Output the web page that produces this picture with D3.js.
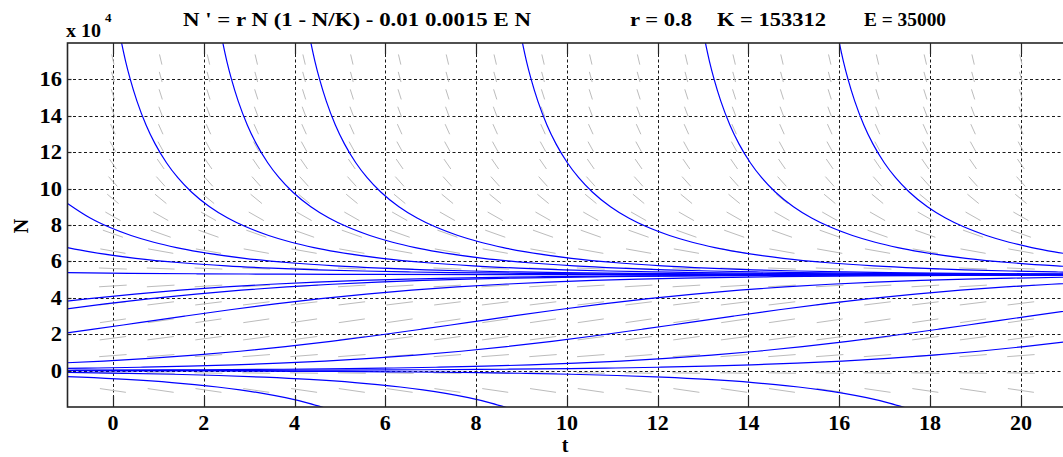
<!DOCTYPE html>
<html>
<head>
<meta charset="utf-8">
<script src="https://cdn.jsdelivr.net/npm/d3@7"></script>
<style>
  body { margin: 0; background: #fff; }
  svg { display: block; }
</style>
</head>
<body>
<svg id="chart" width="1063" height="457"></svg>
<script>
// ---- axis ticks (N in units of 10^4) ----
const tTicks = [0, 2, 4, 6, 8, 10, 12, 14, 16, 18, 20];
const nTicks = [0, 2, 4, 6, 8, 10, 12, 14, 16];

// ---- direction field: sample columns (t), rows (N) and the slope dN/dt on each row ----
const fieldT = [0, 1.053, 2.105, 3.158, 4.211, 5.263, 6.316, 7.368, 8.421, 9.474,
                10.526, 11.579, 12.632, 13.684, 14.737, 15.789, 16.842, 17.895, 18.947, 20];
const fieldN = [-1.091, -0.134, 0.823, 1.780, 2.737, 3.694, 4.651, 5.608, 6.565, 7.522,
                8.478, 9.435, 10.392, 11.349, 12.306, 13.263, 14.220, 15.177, 16.134, 17.091];
const fieldSlope = [-0.3621, -0.0378, 0.1910, 0.3242, 0.3618, 0.3038, 0.1503, -0.0989, -0.4436, -0.8839,
                    -1.4191, -2.0505, -2.7774, -3.5999, -4.5180, -5.5317, -6.6409, -7.8458, -9.1462, -10.5423];

// ---- solution curves [t, N] ----
// populations starting above the stable level, decaying toward it
const above1 = [[-1,5.381],[0.35,5.345],[1.85,5.320],[3.85,5.299],[5.85,5.287],[8.85,5.277],[11.85,5.273],[14.85,5.2715],[17.85,5.2707],[21,5.2704]];
const above2 = [[-1,6.760],[-0.5,6.523],[0.5,6.170],[1.5,5.927],[2.5,5.754],[3.5,5.630],[4.5,5.539],[5.5,5.472],[6.5,5.422],[7.5,5.385],[9,5.345],[10.5,5.320],[12.5,5.299],[14.5,5.287],[17.5,5.277],[21,5.273]];
const above3 = [[-1,9.187],[-0.5,8.386],[-0.1,7.900],[0.4,7.424],[0.9,7.053],[1.4,6.760],[1.9,6.523],[2.9,6.170],[3.9,5.927],[4.9,5.754],[5.9,5.630],[6.9,5.539],[7.9,5.472],[8.9,5.422],[9.9,5.385],[11.4,5.345],[12.9,5.320],[14.9,5.299],[16.9,5.287],[21,5.276]];
const above4 = [[0.13,18.75],[0.28,16.995],[0.38,16.027],[0.53,14.805],[0.73,13.498],[0.93,12.457],[1.18,11.422],[1.43,10.600],[1.73,9.814],[2.13,9.005],[2.53,8.386],[2.93,7.900],[3.43,7.424],[3.93,7.053],[4.43,6.760],[4.93,6.523],[5.93,6.170],[6.93,5.927],[7.93,5.754],[8.93,5.630],[9.93,5.539],[10.93,5.472],[11.93,5.422],[12.93,5.385],[14.43,5.345],[15.93,5.320],[17.93,5.299],[19.93,5.287],[22.93,5.277]];
const above5 = [[2.36,18.75],[2.51,16.995],[2.61,16.027],[2.76,14.805],[2.96,13.498],[3.16,12.457],[3.41,11.422],[3.66,10.600],[3.96,9.814],[4.36,9.005],[4.76,8.386],[5.16,7.900],[5.66,7.424],[6.16,7.053],[6.66,6.760],[7.16,6.523],[8.16,6.170],[9.16,5.927],[10.16,5.754],[11.16,5.630],[12.16,5.539],[13.16,5.472],[14.16,5.422],[15.16,5.385],[16.66,5.345],[18.16,5.320],[20.16,5.299],[22.16,5.287]];
const above6 = [[4.3,18.75],[4.45,16.995],[4.55,16.027],[4.7,14.805],[4.9,13.498],[5.1,12.457],[5.35,11.422],[5.6,10.600],[5.9,9.814],[6.3,9.005],[6.7,8.386],[7.1,7.900],[7.6,7.424],[8.1,7.053],[8.6,6.760],[9.1,6.523],[10.1,6.170],[11.1,5.927],[12.1,5.754],[13.1,5.630],[14.1,5.539],[15.1,5.472],[16.1,5.422],[17.1,5.385],[18.6,5.345],[20.1,5.320],[22.1,5.299]];
const above7 = [[8.96,18.75],[9.11,16.995],[9.21,16.027],[9.36,14.805],[9.56,13.498],[9.76,12.457],[10.01,11.422],[10.26,10.600],[10.56,9.814],[10.96,9.005],[11.36,8.386],[11.76,7.900],[12.26,7.424],[12.76,7.053],[13.26,6.760],[13.76,6.523],[14.76,6.170],[15.76,5.927],[16.76,5.754],[17.76,5.630],[18.76,5.539],[19.76,5.472],[20.76,5.422],[21.76,5.385]];
const above8 = [[12.99,18.75],[13.14,16.995],[13.24,16.027],[13.39,14.805],[13.59,13.498],[13.79,12.457],[14.04,11.422],[14.29,10.600],[14.59,9.814],[14.99,9.005],[15.39,8.386],[15.79,7.900],[16.29,7.424],[16.79,7.053],[17.29,6.760],[17.79,6.523],[18.79,6.170],[19.79,5.927],[20.79,5.754],[21.79,5.630]];
const above9 = [[15.94,18.75],[16.09,16.995],[16.19,16.027],[16.34,14.805],[16.54,13.498],[16.74,12.457],[16.99,11.422],[17.24,10.600],[17.54,9.814],[17.94,9.005],[18.34,8.386],[18.74,7.900],[19.24,7.424],[19.74,7.053],[20.24,6.760],[20.74,6.523],[21.74,6.170]];

// populations between zero and the stable level, growing toward it
const lower1 = [[-1.52,3.6643],[-0.52,3.9539],[0.48,4.2065],[1.48,4.4210],[2.48,4.5994],[3.48,4.7444],[4.48,4.8609],[5.48,4.9535],[6.48,5.0261],[7.48,5.0827],[9.48,5.1603],[11.48,5.2062],[13.48,5.2330],[15.48,5.2487],[17.48,5.2577],[19.48,5.2630],[21.48,5.2660]];
const lower2 = [[-1.17,3.3420],[-0.17,3.6643],[0.83,3.9539],[1.83,4.2065],[2.83,4.4210],[3.83,4.5994],[4.83,4.7444],[5.83,4.8609],[6.83,4.9535],[7.83,5.0261],[8.83,5.0827],[10.83,5.1603],[12.83,5.2062],[14.83,5.2330],[16.83,5.2487],[18.83,5.2577],[20.83,5.2630],[22.83,5.2660]];
const lower3 = [[-1.42,1.9281],[-0.42,2.2750],[0.58,2.6351],[1.58,2.9951],[2.58,3.3420],[3.58,3.6643],[4.58,3.9539],[5.58,4.2065],[6.58,4.4210],[7.58,4.5994],[8.58,4.7444],[9.58,4.8609],[10.58,4.9535],[11.58,5.0261],[12.58,5.0827],[14.58,5.1603],[16.58,5.2062],[18.58,5.2330],[20.58,5.2487],[22.58,5.2577]];
const lower4 = [[-1.2,0.4092],[-0.2,0.5257],[0.8,0.6709],[1.8,0.8491],[2.8,1.0636],[3.8,1.3162],[4.8,1.6058],[5.8,1.9281],[6.8,2.2750],[7.8,2.6351],[8.8,2.9951],[9.8,3.3420],[10.8,3.6643],[11.8,3.9539],[12.8,4.2065],[13.8,4.4210],[14.8,4.5994],[15.8,4.7444],[16.8,4.8609],[17.8,4.9535],[18.8,5.0261],[19.8,5.0827],[21.8,5.1603]];
const lower5 = [[-1.33,0.1098],[-0.33,0.1436],[0.67,0.1875],[1.67,0.2441],[2.67,0.3167],[3.67,0.4092],[4.67,0.5257],[5.67,0.6709],[6.67,0.8491],[7.67,1.0636],[8.67,1.3162],[9.67,1.6058],[10.67,1.9281],[11.67,2.2750],[12.67,2.6351],[13.67,2.9951],[14.67,3.3420],[15.67,3.6643],[16.67,3.9539],[17.67,4.2065],[18.67,4.4210],[19.67,4.5994],[20.67,4.7444],[21.67,4.8609]];
const lower6 = [[-2.81,0.0124],[-0.81,0.02145],[1.19,0.0371],[3.19,0.0639],[5.19,0.1098],[6.19,0.1436],[7.19,0.1875],[8.19,0.2441],[9.19,0.3167],[10.19,0.4092],[11.19,0.5257],[12.19,0.6709],[13.19,0.8491],[14.19,1.0636],[15.19,1.3162],[16.19,1.6058],[17.19,1.9281],[18.19,2.2750],[19.19,2.6351],[20.19,2.9951],[21.19,3.3420]];
const lower7 = [[-1.93,0.00413],[0.07,0.00716],[2.07,0.0124],[4.07,0.02145],[6.07,0.0371],[8.07,0.0639],[10.07,0.1098],[11.07,0.1436],[12.07,0.1875],[13.07,0.2441],[14.07,0.3167],[15.07,0.4092],[16.07,0.5257],[17.07,0.6709],[18.07,0.8491],[19.07,1.0636],[20.07,1.3162],[21.07,1.6058]];

// negative populations, falling away from zero
const below1 = [[-1.7,-0.2690],[-0.7,-0.3600],[0.3,-0.4844],[1.3,-0.6567],[1.8,-0.7677],[2.3,-0.9001],[2.8,-1.0593],[3.3,-1.2527],[3.8,-1.4896],[4.3,-1.7834],[4.8,-2.154]];
const below2 = [[-2.67,-0.0655],[-0.67,-0.1146],[0.33,-0.1519],[1.33,-0.2018],[2.33,-0.2690],[3.33,-0.3600],[4.33,-0.4844],[5.33,-0.6567],[5.83,-0.7677],[6.33,-0.9001],[6.83,-1.0593],[7.33,-1.2527],[7.83,-1.4896],[8.33,-1.7834],[8.83,-2.154]];
const below3 = [[-1.9,-0.00718],[0.1,-0.01246],[2.1,-0.02162],[4.1,-0.0376],[6.1,-0.0655],[8.1,-0.1146],[9.1,-0.1519],[10.1,-0.2018],[11.1,-0.2690],[12.1,-0.3600],[13.1,-0.4844],[14.1,-0.6567],[14.6,-0.7677],[15.1,-0.9001],[15.6,-1.0593],[16.1,-1.2527],[16.6,-1.4896],[17.1,-1.7834],[17.6,-2.154]];

const curves = [above1, above2, above3, above4, above5, above6, above7, above8, above9,
                lower1, lower2, lower3, lower4, lower5, lower6, lower7,
                below1, below2, below3];

// ---- layout ----
const SERIF = "'Liberation Serif', 'DejaVu Serif', serif";
const svg = d3.select("#chart").attr("font-family", SERIF).attr("font-weight", "bold");
const plotLeft = 67.5, plotTop = 43, plotBottom = 407, unitT = 45.4;
const x = d3.scaleLinear().domain([-1, 21]).range([plotLeft, plotLeft + 22 * unitT]);
const y = d3.scaleLinear().domain([-2, 18]).range([plotBottom, plotTop]);
const plotW = x(21) - x(-1), plotH = plotBottom - plotTop;

svg.append("defs").append("clipPath").attr("id", "plot-clip")
  .append("rect").attr("x", plotLeft).attr("y", plotTop).attr("width", plotW).attr("height", plotH);

// dotted grid
const grid = svg.append("g").attr("stroke", "#1a1a1a").attr("stroke-width", 1).attr("stroke-dasharray", "3,2.5");
grid.selectAll("line.v").data(tTicks).join("line").attr("class", "v")
  .attr("x1", d => Math.round(x(d)) + 0.5).attr("x2", d => Math.round(x(d)) + 0.5)
  .attr("y1", plotTop).attr("y2", plotBottom);
grid.selectAll("line.h").data(nTicks).join("line").attr("class", "h")
  .attr("x1", plotLeft).attr("x2", x(21))
  .attr("y1", d => Math.round(y(d)) + 0.5).attr("y2", d => Math.round(y(d)) + 0.5);

// direction field segments of equal length in normalized axis space
const tSpan = 22, nSpan = 20, segLen = 0.028;
const fieldData = [];
fieldN.forEach((n, i) => fieldT.forEach(t => fieldData.push({ t, n, s: fieldSlope[i] })));
const field = svg.append("g").attr("clip-path", "url(#plot-clip)")
  .attr("stroke", "#bcbcbc").attr("stroke-width", 1);
field.selectAll("line").data(fieldData).join("line")
  .each(function (d) {
    const ux = 1 / tSpan, uy = d.s / nSpan, len = Math.hypot(ux, uy);
    const dt = (ux / len) * segLen / 2 * tSpan, dn = (uy / len) * segLen / 2 * nSpan;
    d3.select(this)
      .attr("x1", x(d.t - dt)).attr("y1", y(d.n - dn))
      .attr("x2", x(d.t + dt)).attr("y2", y(d.n + dn));
  });

// solution curves
const line = d3.line().x(d => x(d[0])).y(d => y(d[1])).curve(d3.curveMonotoneX);
svg.append("g").attr("clip-path", "url(#plot-clip)")
  .selectAll("path").data(curves).join("path")
  .attr("d", line).attr("fill", "none").attr("stroke", "#0000ff").attr("stroke-width", 1.2);

// axes frame and tick marks
const frame = svg.append("g").attr("stroke", "#262626").attr("fill", "none");
frame.append("rect").attr("x", plotLeft).attr("y", plotTop).attr("width", plotW).attr("height", plotH).attr("stroke-width", 1.6);
frame.selectAll("line.tb").data(tTicks).join("line").attr("class", "tb")
  .attr("x1", d => Math.round(x(d)) + 0.5).attr("x2", d => Math.round(x(d)) + 0.5)
  .attr("y1", plotBottom).attr("y2", plotBottom - 11).attr("stroke-width", 1.2);
frame.selectAll("line.tt").data(tTicks).join("line").attr("class", "tt")
  .attr("x1", d => Math.round(x(d)) + 0.5).attr("x2", d => Math.round(x(d)) + 0.5)
  .attr("y1", plotTop).attr("y2", plotTop + 11).attr("stroke-width", 1.2);
frame.selectAll("line.nl").data(nTicks).join("line").attr("class", "nl")
  .attr("x1", plotLeft).attr("x2", plotLeft + 4)
  .attr("y1", d => Math.round(y(d)) + 0.5).attr("y2", d => Math.round(y(d)) + 0.5).attr("stroke-width", 1.2);

// text helper: serif bold with a horizontal stretch
function label(parent, str, px, py, size, opts = {}) {
  const t = parent.append("text")
    .attr("x", px).attr("y", py)
    .attr("font-family", SERIF).attr("font-weight", "bold").attr("font-size", size)
    .attr("fill", "#000").attr("text-anchor", opts.anchor || "start")
    .text(str);
  if (opts.width) {
    t.attr("textLength", opts.width).attr("lengthAdjust", "spacingAndGlyphs");
  } else if (opts.stretch) {
    const w = t.node().getComputedTextLength();
    t.attr("textLength", w * opts.stretch).attr("lengthAdjust", "spacingAndGlyphs");
  }
  if (opts.transform) t.attr("transform", opts.transform);
  return t;
}

// tick labels
const labels = svg.append("g");
tTicks.forEach(d => label(labels, String(d), x(d), 430, 20, { anchor: "middle", stretch: 1.1 }));
nTicks.forEach(d => label(labels, String(d), 62, y(d) + 7, 20, { anchor: "end", stretch: 1.12 }));

// axis labels
label(svg, "t", 565, 452, 20, { anchor: "middle" });
label(svg, "N", 0, 0, 20, { anchor: "middle", transform: "translate(28,226) rotate(-90)" });

// exponent label
label(svg, "x 10", 66, 37, 18, { width: 35 });
label(svg, "4", 105, 22, 13);

// title
label(svg, "N ' = r N (1 - N/K) - 0.01 0.0015 E N", 183, 26, 19, { width: 348 });
label(svg, "r = 0.8", 630, 26, 19, { width: 62 });
label(svg, "K = 153312", 717, 26, 19, { width: 109 });
label(svg, "E = 35000", 864, 26, 19, { width: 82 });
</script>
</body>
</html>
